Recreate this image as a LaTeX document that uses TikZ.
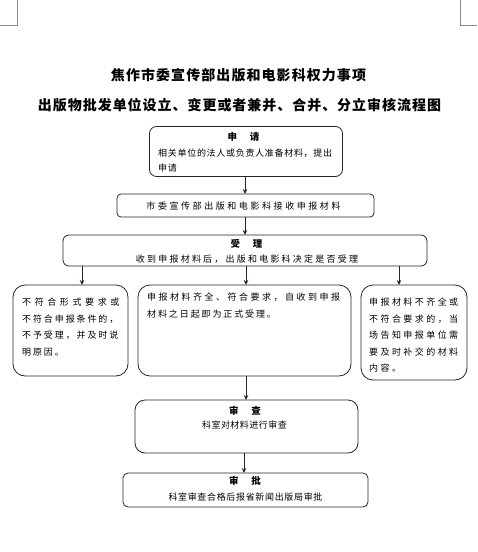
\documentclass[tikz,border=0pt]{standalone}
\usepackage{fontspec}
\usetikzlibrary{arrows.meta}
\newfontfamily\cjk{Noto Sans CJK SC}
\begin{document}
\begin{tikzpicture}[x=1pt,y=-1pt,
  box/.style={draw=black!85, line width=0.8pt, inner sep=0, outer sep=0},
  arr/.style={-{Stealth[length=5pt,width=4.5pt]}, line width=0.8pt, draw=black!85},
  hd/.style={font=\cjk\bfseries\fontsize{9.5}{11}\selectfont, inner sep=0},
  title/.style={font=\cjk\bfseries\fontsize{14}{16}\selectfont, inner sep=0},
  cornermark/.style={draw=black!45, line width=0.6pt},
]
\useasboundingbox (0,0) rectangle (477,552);
% corner marks
\draw[cornermark] (17,0) -- (17,25) -- (0,25);
\draw[cornermark] (460,0) -- (460,25) -- (477,25);
% titles
\node[title] (t1) at (238.5,75) {\addfontfeature{LetterSpace=7.6}焦作市委宣传部出版和电影科权力事项};
\node[title] (t2) at (239.5,105) {\addfontfeature{LetterSpace=6.9}出版物批发单位设立、变更或者兼并、合并、分立审核流程图};
% boxes
\node[box, rounded corners=7, minimum width=193, minimum height=50] (b1) at (246,151.5) {};
\node[box, rounded corners=4, minimum width=257, minimum height=23] (b2) at (245.5,205.5) {};
\node[box, rounded corners=6, minimum width=364, minimum height=31] (b3) at (245,250.5) {};
\node[box, rounded corners=12, minimum width=115, minimum height=91] (b4) at (70.5,330.5) {};
\node[box, rounded corners=12, minimum width=213, minimum height=91] (b5) at (244.5,330.5) {};
\node[box, rounded corners=12, minimum width=106, minimum height=95] (b6) at (414,332.5) {};
\node[box, rounded corners=10, minimum width=223, minimum height=53] (b7) at (246.5,426.5) {};
\node[box, rounded corners=5, minimum width=245, minimum height=34] (b8) at (245.5,490) {};
% arrow x positions
\coordinate (xa) at (245,0);
\coordinate (xl) at (82,0);
\coordinate (xm) at (246,0);
\coordinate (xr) at (399,0);
\coordinate (xb) at (244,0);
\draw[arr] (b1.south -| xa) -- (b2.north -| xa);
\draw[arr] (b2.south -| xa) -- (b3.north -| xa);
\draw[arr] (b3.south -| xl) -- (b4.north -| xl);
\draw[arr] (b3.south -| xm) -- (b5.north -| xm);
\draw[arr] (b3.south -| xr) -- (b6.north -| xr);
\draw[arr] (b5.south -| xm) -- (b7.north -| xm);
\draw[arr] (b7.south -| xb) -- (b8.north -| xb);
% texts
\node[hd] (h1) at (243.5,137) {申\hspace{13pt}请};
\begin{scope}
\clip (b1.north west) rectangle ([yshift=4pt]b1.south east);
\node[inner sep=0, anchor=north west, align=left, font=\cjk\fontsize{9}{15}\selectfont] (l1) at (158,149) {\addfontfeature{LetterSpace=7.8}相关单位的法人或负责人准备材料，提出\\\addfontfeature{LetterSpace=7.8}申请};
\end{scope}
\node[inner sep=0, font=\cjk\fontsize{9}{11}\selectfont] (l2) at (243.5,206) {\addfontfeature{LetterSpace=28.5}市委宣传部出版和电影科接收申报材料};
\node[hd] (h3) at (246.5,244) {受\hspace{13pt}理};
\node[inner sep=0, font=\cjk\fontsize{9}{11}\selectfont] (l3) at (247,259) {\addfontfeature{LetterSpace=24.6}收到申报材料后，出版和电影科决定是否受理};
\node[inner sep=0, anchor=north west, align=left, font=\cjk\fontsize{9}{16.5}\selectfont] (l4) at (22,298) {\addfontfeature{LetterSpace=40}不符合形式要求或\\\addfontfeature{LetterSpace=21}不符合申报条件的，\\\addfontfeature{LetterSpace=21}不予受理，并及时说\\\addfontfeature{LetterSpace=21}明原因。};
\node[inner sep=0, anchor=north west, align=left, font=\cjk\fontsize{9}{16.5}\selectfont] (l5) at (147,293) {\addfontfeature{LetterSpace=27.8}申报材料齐全、符合要求，自收到申报\\\addfontfeature{LetterSpace=21}材料之日起即为正式受理。};
\node[inner sep=0, anchor=north west, align=left, font=\cjk\fontsize{9}{16.5}\selectfont] (l6) at (369,298) {\addfontfeature{LetterSpace=27}申报材料不齐全或\\\addfontfeature{LetterSpace=27}不符合要求的，当\\\addfontfeature{LetterSpace=27}场告知申报单位需\\\addfontfeature{LetterSpace=27}要及时补交的材料\\\addfontfeature{LetterSpace=27}内容。};
\node[hd] (h7) at (245,411) {审\hspace{13pt}查};
\node[inner sep=0, font=\cjk\fontsize{9}{11}\selectfont] (l7) at (244.5,425) {\addfontfeature{LetterSpace=5.5}科室对材料进行审查};
\node[hd] (h8) at (245,481) {审\hspace{13pt}批};
\node[inner sep=0, font=\cjk\fontsize{9}{11}\selectfont] (l8) at (245.5,497) {\addfontfeature{LetterSpace=7.4}科室审查合格后报省新闻出版局审批};
\end{tikzpicture}
\end{document}
